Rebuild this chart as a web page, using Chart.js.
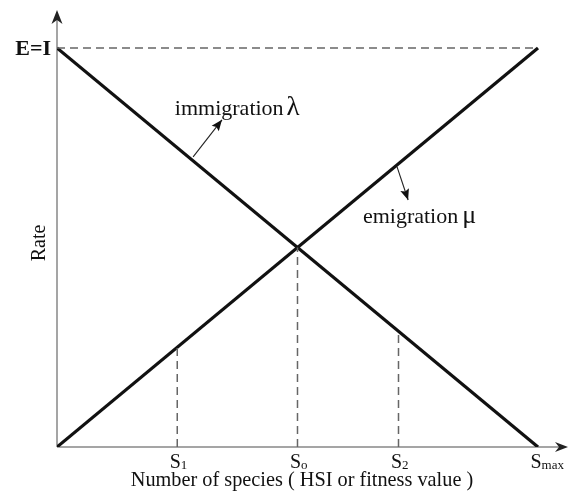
<!DOCTYPE html>
<html>
<head>
<meta charset="utf-8">
<script src="https://cdn.jsdelivr.net/npm/chart.js@4.4.1/dist/chart.umd.min.js"></script>
<style>
html,body{margin:0;padding:0;background:#fff;}
#wrap{width:569px;height:496px;}
</style>
</head>
<body>
<div id="wrap"><canvas id="c" width="569" height="496"></canvas></div>
<script>
// ---- data ----
const speciesX = [0, 1];                 // 0 .. Smax
const immigrationRate = [1, 0];          // lambda
const emigrationRate = [0, 1];           // mu
const equilibriumLevel = [1, 1];         // E = I dashed line
const tickPositions = [0.25, 0.5, 0.71, 1];
const tickMain = ['S', 'S', 'S', 'S'];
const tickSub = ['1', 'o', '2', 'max'];
const guideX = [0.25, 0.5, 0.71];
const guideTop = [0.25, 0.5, 0.29];

const toPts = (xs, ys) => xs.map((x, i) => ({x: x, y: ys[i]}));

const datasets = [];
guideX.forEach((gx, i) => {
  datasets.push({label: 'guide' + i, data: toPts([gx, gx], [0, guideTop[i]]), borderColor: '#666', borderWidth: 1.5, borderDash: [8, 5]});
});
datasets.push({label: 'E=I', data: toPts(speciesX, equilibriumLevel), borderColor: '#666', borderWidth: 1.5, borderDash: [8, 5]});
datasets.push({label: 'immigration', data: toPts(speciesX, immigrationRate), borderColor: '#111', borderWidth: 3.2});
datasets.push({label: 'emigration', data: toPts(speciesX, emigrationRate), borderColor: '#111', borderWidth: 3.2});
datasets.forEach(d => { d.showLine = true; d.pointRadius = 0; d.fill = false; d.tension = 0; });

const SERIF = '"Liberation Serif", "Times New Roman", serif';

function arrowHead(ctx, tx, ty, angle, len, half, notch) {
  ctx.save();
  ctx.translate(tx, ty);
  ctx.rotate(angle);
  ctx.beginPath();
  ctx.moveTo(0, 0);
  ctx.lineTo(-len, -half);
  ctx.lineTo(-len + notch, 0);
  ctx.lineTo(-len, half);
  ctx.closePath();
  ctx.fill();
  ctx.restore();
}

const decor = {
  id: 'decor',
  beforeDatasetsDraw(chart) {
    const {ctx, chartArea: a} = chart;
    const xs = chart.scales.x, ys = chart.scales.y;
    const ox = xs.getPixelForValue(0), oy = ys.getPixelForValue(0);
    ctx.save();
    ctx.strokeStyle = '#888';
    ctx.fillStyle = '#222';
    ctx.lineWidth = 1.5;
    ctx.beginPath();
    ctx.moveTo(ox, oy); ctx.lineTo(ox, a.top + 4);
    ctx.moveTo(ox, oy); ctx.lineTo(a.right - 4, oy);
    ctx.stroke();
    arrowHead(ctx, ox, a.top, -Math.PI / 2, 14, 5.5, 4);
    arrowHead(ctx, a.right, oy, 0, 13, 5, 4);
    ctx.restore();
  },
  afterDatasetsDraw(chart) {
    const {ctx} = chart;
    const xs = chart.scales.x, ys = chart.scales.y;
    const px = v => xs.getPixelForValue(v), py = v => ys.getPixelForValue(v);
    ctx.save();
    ctx.fillStyle = '#111';
    ctx.textBaseline = 'alphabetic';

    // tick labels with subscripts
    tickPositions.forEach((v, i) => {
      const cx = px(v) - 2;
      ctx.font = '20px ' + SERIF;
      ctx.textAlign = 'center';
      ctx.fillText(tickMain[i], cx, py(0) + 21);
      const w = ctx.measureText(tickMain[i]).width;
      ctx.font = '13px ' + SERIF;
      ctx.textAlign = 'left';
      ctx.fillText(tickSub[i], cx + w / 2, py(0) + 22);
    });

    // axis titles
    ctx.font = '20.3px ' + SERIF;
    ctx.textAlign = 'center';
    ctx.fillText('Number of species ( HSI or fitness value )', 302, 486);
    ctx.save();
    ctx.translate(45, 243);
    ctx.rotate(-Math.PI / 2);
    ctx.font = '20px ' + SERIF;
    ctx.fillText('Rate', 0, 0);
    ctx.restore();

    // E=I label
    ctx.font = 'bold 22px ' + SERIF;
    ctx.textAlign = 'right';
    ctx.fillText('E=I', px(0) - 6, py(1) + 7);

    // curve labels
    ctx.textAlign = 'left';
    ctx.font = '22px ' + SERIF;
    const imX = px(0.245), imY = py(0.832);
    ctx.fillText('immigration', imX, imY);
    let w1 = ctx.measureText('immigration').width;
    ctx.font = '27px ' + SERIF;
    ctx.fillText('\u03BB', imX + w1 + 3, imY);
    ctx.font = '22px ' + SERIF;
    const emX = px(0.636), emY = py(0.561);
    ctx.fillText('emigration', emX, emY);
    let w2 = ctx.measureText('emigration').width;
    ctx.font = '26px ' + SERIF;
    ctx.fillText('\u03BC', emX + w2 + 4, emY);

    // pointer arrows
    ctx.strokeStyle = '#222';
    ctx.lineWidth = 1.1;
    const arrows = [[0.283, 0.727, 0.343, 0.82], [0.707, 0.702, 0.73, 0.619]];
    arrows.forEach(([x0, y0, x1, y1]) => {
      const X0 = px(x0), Y0 = py(y0), X1 = px(x1), Y1 = py(y1);
      ctx.beginPath(); ctx.moveTo(X0, Y0); ctx.lineTo(X1, Y1); ctx.stroke();
      ctx.fillStyle = '#111';
      arrowHead(ctx, X1, Y1, Math.atan2(Y1 - Y0, X1 - X0), 11, 4.5, 2);
    });
    ctx.restore();
  }
};

new Chart(document.getElementById('c'), {
  type: 'scatter',
  data: {datasets},
  options: {
    responsive: false,
    animation: false,
    layout: {padding: {left: 57, right: 1, top: 10, bottom: 49}},
    plugins: {legend: {display: false}, tooltip: {enabled: false}},
    scales: {
      x: {type: 'linear', min: 0, max: 1.0624, display: false},
      y: {type: 'linear', min: 0, max: 1.0952, display: false}
    }
  },
  plugins: [decor]
});
</script>
</body>
</html>
